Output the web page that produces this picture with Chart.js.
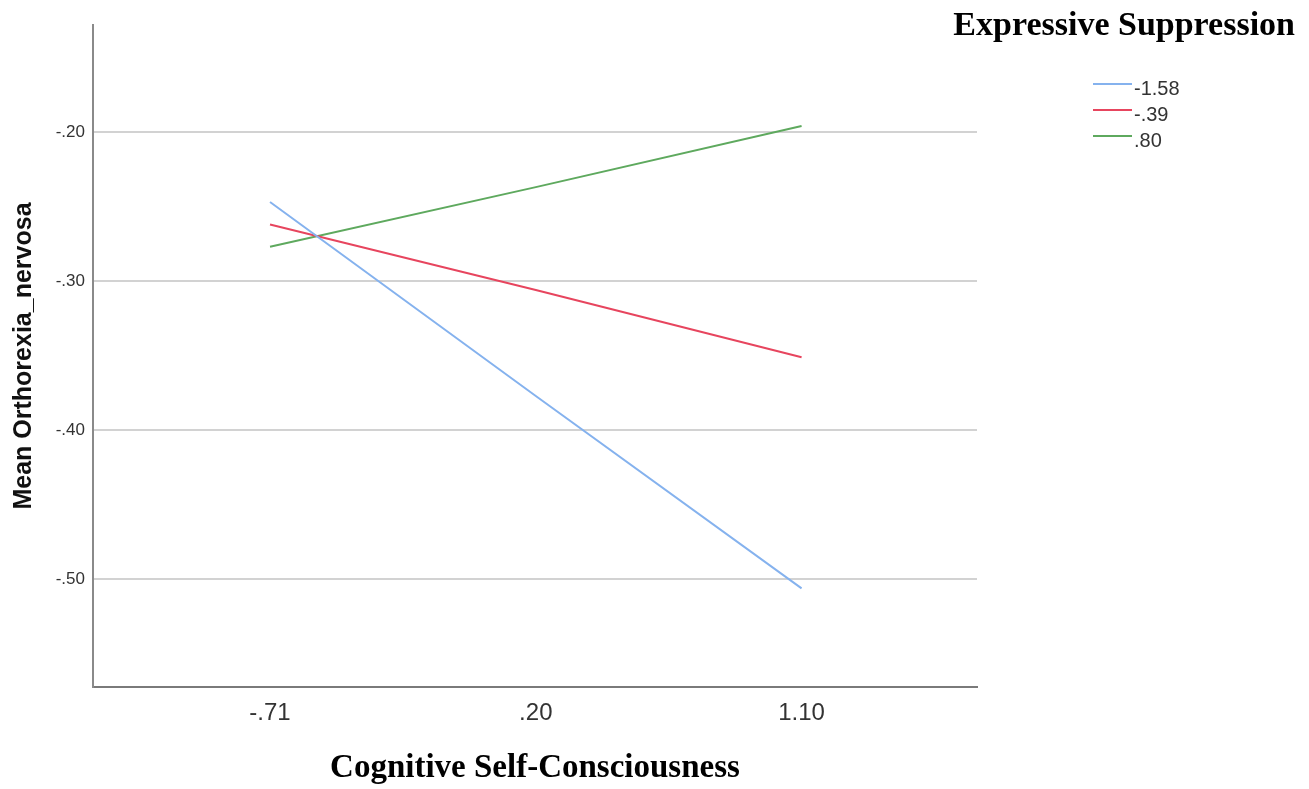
<!DOCTYPE html>
<html>
<head>
<meta charset="utf-8">
<script src="https://cdn.jsdelivr.net/npm/chart.js@4"></script>
<style>
  html, body { margin: 0; padding: 0; background: #ffffff; }
  #wrap { width: 1309px; height: 789px; position: relative; }
</style>
</head>
<body>
<div id="wrap"><canvas id="c" width="1309" height="789"></canvas></div>
<script>
// ---- data ----
const categories = ['-.71', '.20', '1.10'];          // Cognitive Self-Consciousness levels
const seriesLabels = ['-1.58', '-.39', '.80'];         // Expressive Suppression levels
const seriesLow = [-0.247, -0.377, -0.506];            // ES = -1.58
const seriesMid = [-0.262, -0.306, -0.351];            // ES = -.39
const seriesHigh = [-0.277, -0.237, -0.196];           // ES = .80
const yTickValues = [-0.5, -0.4, -0.3, -0.2];
const yTickLabels = ['-.50', '-.40', '-.30', '-.20'];

const colors = ['#85b2ee', '#e7455e', '#5ea95e'];
const allSeries = [seriesLow, seriesMid, seriesHigh];

const datasets = allSeries.map((vals, s) => ({
  label: seriesLabels[s],
  data: vals.map((v, i) => ({ x: i, y: v })),
  borderColor: colors[s],
  backgroundColor: colors[s],
  borderWidth: 2,
  pointRadius: 0,
  tension: 0,
  fill: false
}));

const legendPlugin = {
  id: 'spssLegend',
  afterDraw(chart) {
    const ctx = chart.ctx;
    ctx.save();
    ctx.fillStyle = '#000';
    ctx.font = 'bold 34px "Liberation Serif", "Times New Roman", serif';
    ctx.textAlign = 'right';
    ctx.textBaseline = 'alphabetic';
    ctx.fillText('Expressive Suppression', 1295, 35);
    chart.data.datasets.forEach((ds, i) => {
      const ly = 84 + i * 26;
      ctx.strokeStyle = ds.borderColor;
      ctx.lineWidth = 2;
      ctx.beginPath();
      ctx.moveTo(1093, ly);
      ctx.lineTo(1132, ly);
      ctx.stroke();
      ctx.fillStyle = '#333';
      ctx.font = '20px "Liberation Sans", Arial, sans-serif';
      ctx.textAlign = 'left';
      ctx.textBaseline = 'middle';
      ctx.fillText(ds.label, 1134, ly + 5);
    });
    ctx.restore();
  }
};

new Chart(document.getElementById('c'), {
  type: 'line',
  data: { datasets },
  plugins: [legendPlugin],
  options: {
    responsive: false,
    animation: false,
    layout: { padding: { top: 25, right: 332, left: 0, bottom: 0 } },
    plugins: { legend: { display: false }, tooltip: { enabled: false } },
    scales: {
      x: {
        type: 'linear',
        min: -0.666,
        max: 2.66,
        afterBuildTicks(scale) { scale.ticks = categories.map((c, i) => ({ value: i })); },
        afterFit(scale) { scale.height = 102; },
        ticks: {
          callback: (v, i) => categories[i],
          color: '#333',
          font: { family: '"Liberation Sans", Arial, sans-serif', size: 24 },
          padding: 12,
          maxRotation: 0,
          autoSkip: false
        },
        grid: { display: false, drawTicks: false },
        border: { display: true, color: '#7a7a7a', width: 2 },
        title: {
          display: true,
          text: 'Cognitive Self-Consciousness',
          color: '#000',
          font: { family: '"Liberation Serif", "Times New Roman", serif', size: 33, weight: 'bold' },
          padding: { top: 4, bottom: 1 }
        }
      },
      y: {
        type: 'linear',
        min: -0.5721,
        max: -0.1283,
        afterBuildTicks(scale) { scale.ticks = yTickValues.map(v => ({ value: v })); },
        afterFit(scale) { scale.width = 93; },
        ticks: {
          callback: (v, i) => yTickLabels[i],
          color: '#333',
          font: { family: '"Liberation Sans", Arial, sans-serif', size: 17 },
          padding: 8,
          autoSkip: false
        },
        grid: { color: '#d2d2d2', lineWidth: 2, drawTicks: false },
        border: { display: true, color: '#8a8a8a', width: 2 },
        title: {
          display: true,
          text: 'Mean Orthorexia_nervosa',
          color: '#111',
          font: { family: '"Liberation Sans", Arial, sans-serif', size: 25, weight: 'bold' },
          padding: { top: 9, bottom: 0 }
        }
      }
    }
  }
});
</script>
</body>
</html>
